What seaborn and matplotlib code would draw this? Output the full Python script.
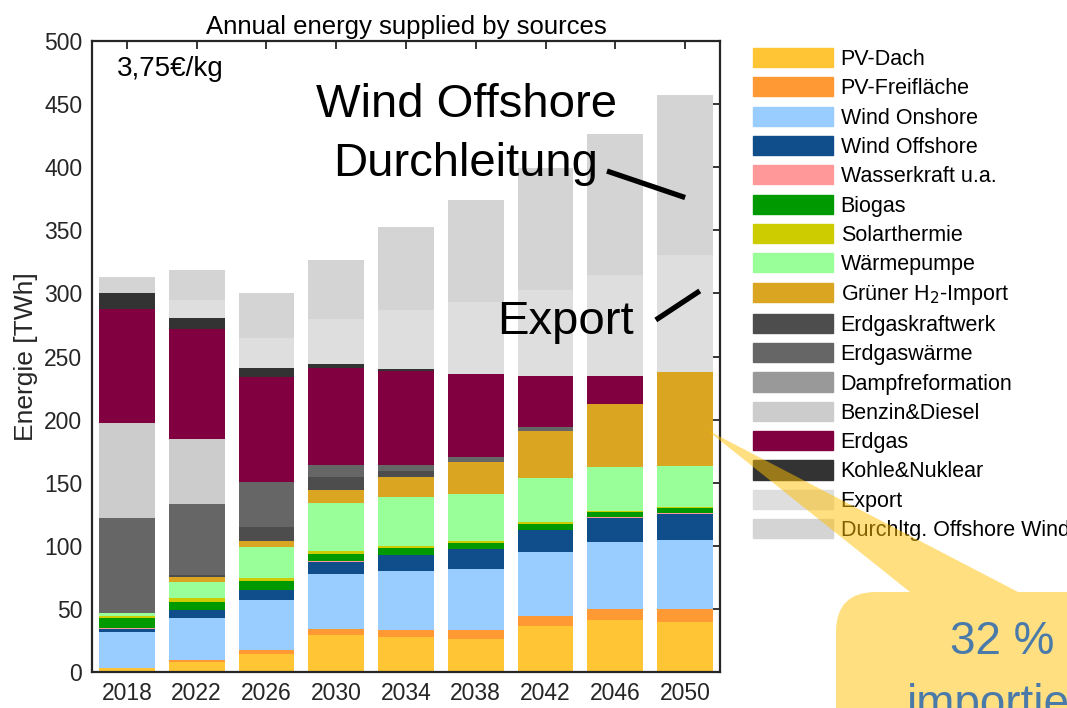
import matplotlib
matplotlib.use('Agg')
import matplotlib.pyplot as plt
import matplotlib.patches as mpatches
import seaborn as sns
import numpy as np

years = ['2018', '2022', '2026', '2030', '2034', '2038', '2042', '2046', '2050']

sources = ['PV-Dach', 'PV-Freifläche', 'Wind Onshore', 'Wind Offshore', 'Wasserkraft u.a.',
           'Biogas', 'Solarthermie', 'Wärmepumpe', 'Grüner H$_2$-Import', 'Erdgaskraftwerk',
           'Erdgaswärme', 'Dampfreformation', 'Benzin&Diesel', 'Erdgas', 'Kohle&Nuklear',
           'Export', 'Durchltg. Offshore Wind']

colors = ['#FFC535', '#FF9933', '#99CCFF', '#104E8B', '#FF9999',
          '#009900', '#CCCC00', '#99FF99', '#DAA520', '#4D4D4D',
          '#666666', '#999999', '#CCCCCC', '#800040', '#333333',
          '#DEDEDE', '#D4D4D4']

# values in TWh
pv_dach = [2.9, 7.9, 14.3, 29.1, 27.7, 26.1, 36.2, 41.2, 39.9]
pv_frei = [0.5, 1.6, 3.2, 4.8, 5.5, 6.9, 7.9, 9.0, 9.8]
wind_on = [28.0, 33.5, 39.4, 44.1, 46.8, 48.9, 51.0, 52.8, 54.7]
wind_off = [2.6, 5.8, 7.9, 9.2, 12.7, 15.3, 17.4, 19.3, 21.1]
wasser = [0.8, 0.4, 0.4, 0.5, 0.3, 0.3, 0.3, 0.3, 0.3]
biogas = [7.9, 6.6, 6.6, 5.5, 5.0, 4.8, 4.5, 4.5, 4.2]
solar = [1.6, 3.2, 2.6, 2.6, 2.1, 1.8, 1.6, 0.5, 0.5]
waermepumpe = [2.7, 12.4, 24.3, 38.0, 38.3, 36.7, 34.9, 35.1, 32.7]
h2_import = [0, 4.2, 5.3, 10.6, 16.4, 25.9, 36.9, 49.6, 74.7]
gas_kw = [0, 1.3, 11.0, 10.3, 4.8, 0, 0, 0, 0]
gas_waerme = [75.3, 56.2, 35.2, 9.5, 4.8, 3.7, 3.7, 0, 0]
dampfref = [0, 0, 0, 0, 0, 0, 0, 0, 0]
benzin = [75.2, 51.5, 0, 0, 0, 0, 0, 0, 0]
erdgas = [90.4, 86.9, 83.4, 76.5, 74.0, 65.5, 39.9, 22.4, 0]
kohle = [12.4, 9.3, 7.6, 3.2, 1.5, 0, 0, 0, 0]
export = [0, 14.0, 23.8, 35.9, 46.7, 57.0, 68.7, 79.8, 92.5]
durchltg = [13.0, 23.7, 35.5, 46.6, 65.8, 81.4, 96.5, 111.7, 127.1]

layers = [pv_dach, pv_frei, wind_on, wind_off, wasser, biogas, solar, waermepumpe,
          h2_import, gas_kw, gas_waerme, dampfref, benzin, erdgas, kohle, export, durchltg]

sns.set_theme(style='white')
plt.rcParams['font.family'] = ['Liberation Sans', 'DejaVu Sans']
plt.rcParams['text.color'] = 'black'

fig = plt.figure(figsize=(10.67, 7.08), dpi=100)
ax = fig.add_axes([0.0862, 0.0508, 0.5886, 0.8912])

# stacked bars: draw cumulative totals from the top layer down
cum = np.cumsum(np.array(layers), axis=0)
for i in range(len(layers) - 1, -1, -1):
    sns.barplot(x=years, y=cum[i], color=colors[i], saturation=1, width=0.8,
                linewidth=0, errorbar=None, ax=ax)

ax.set_ylim(0, 500)
ax.set_xlim(-0.5, 8.5)
ax.set_yticks(np.arange(0, 501, 50))
ax.set_ylabel('Energie [TWh]', fontsize=19, color='#262626', labelpad=4)
ax.set_xlabel('')
ax.set_title('Annual energy supplied by sources', fontsize=18.5, color='black', pad=5)
ax.tick_params(direction='in', top=True, right=True, length=6, width=1.3,
               colors='#262626', labelsize=16.5, pad=7)
for s in ax.spines.values():
    s.set_color('#262626')
    s.set_linewidth(1.6)

ax.text(-0.14, 478, '3,75€/kg', fontsize=20, va='center', ha='left')
ax.text(4.86, 426, 'Wind Offshore\nDurchleitung', fontsize=34, ha='center', va='center',
        linespacing=1.45)
ax.text(6.28, 277, 'Export', fontsize=34, ha='center', va='center')
ax.plot([6.88, 8.0], [397, 376], color='black', lw=3.8, solid_capstyle='butt')
ax.plot([7.58, 8.21], [279, 302], color='black', lw=3.8, solid_capstyle='butt')

handles = [mpatches.Patch(color=c, label=l) for c, l in zip(colors, sources)]
fig.legend(handles=handles, loc='upper left', bbox_to_anchor=(0.698, 0.9445),
           frameon=False, fontsize=15.5, handlelength=3.7, handleheight=1.0,
           labelspacing=0.34, handletextpad=0.35, borderaxespad=0)

# callout bubble (cut off at the figure border)
tr = fig.dpi_scale_trans
wedge = mpatches.Polygon([[7.07, 2.78], [10.18, 1.16], [9.10, 1.16]], closed=True,
                         transform=tr, facecolor='#FFC000', alpha=0.5, lw=0,
                         zorder=10, clip_on=False)
box = mpatches.FancyBboxPatch((8.36, -1.5), 4.0, 2.66,
                              boxstyle='round,pad=0,rounding_size=0.4',
                              transform=tr, facecolor='#FFC000', alpha=0.5, lw=0,
                              zorder=10, clip_on=False)
fig.add_artist(wedge)
fig.add_artist(box)
fig.text(10.02, 0.66, '32 %', transform=tr, fontsize=33, color='#4A7AAA',
         ha='center', va='center', zorder=11)
fig.text(10.02, 0.03, 'importiert', transform=tr, fontsize=33, color='#4A7AAA',
         ha='center', va='center', zorder=11)

fig.savefig('out.png', dpi=100)
